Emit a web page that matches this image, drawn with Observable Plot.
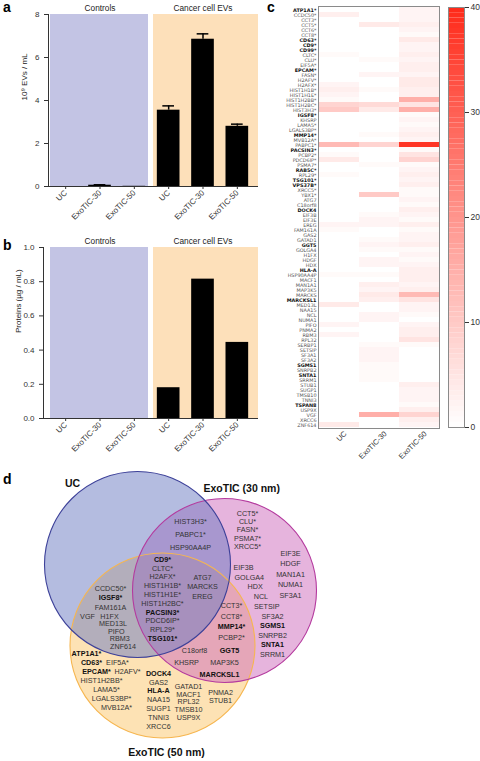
<!DOCTYPE html>
<html><head><meta charset="utf-8">
<script src="https://cdn.jsdelivr.net/npm/d3@7"></script>
<script src="https://cdn.jsdelivr.net/npm/@observablehq/plot@0.6"></script>
<style>
body{margin:0;background:#fff;}
#root{position:relative;width:480px;height:761px;overflow:hidden;font-family:"Liberation Sans",Arial,sans-serif;background:#fff;}
.letter{position:absolute;font-weight:bold;font-size:14px;line-height:14px;color:#000;}
</style></head><body><div id="root"></div>
<script>
// ---------- data: panels a & b ----------
const groups = ["Controls", "Cancer cell EVs"];
const methods = ["UC", "ExoTIC-30", "ExoTIC-50"];
const evConc = [0.0, 0.06, 0.01, 3.55, 6.85, 2.8];      // 10^9 EVs / mL
const evErr = [0.0, 0.02, 0.0, 0.2, 0.25, 0.1];
const evTicks = [0, 2, 4, 6, 8];
const proteinConc = [0.0, 0.0, 0.0, 0.18, 0.815, 0.445]; // µg / mL
const proteinTicks = [0, 0.2, 0.4, 0.6, 0.8, 1.0];

// ---------- data: panel c ----------
const heatGenes = ["ATP1A1*","CCDC50*","CCT3*","CCT5*","CCT6*","CCT8*","CD63*","CD9*","CD99*","CLTC*","CLU*","EIF5A*","EPCAM*","FASN*","H2AFV*","H2AFX*","HIST1H1B*","HIST1H1E*","HIST1H2BB*","HIST1H2BC*","HIST3H3*","IGSF8*","KHSRP","LAMA5*","LGALS3BP*","MMP14*","MVB12A*","PABPC1*","PACSIN3*","PCBP2*","PDCD6IP*","PSMA7*","RAB5C*","RPL29*","TSG101*","VPS37B*","XRCC5*","YBX1*","ATG7","C18orf8","DOCK4","EIF3B","EIF3E","EREG","FAM161A","GAS2","GATAD1","GGT5","GOLGA4","H1FX","HDGF","HDX","HLA-A","HSP90AA4P","MACF1","MAN1A1","MAP3K5","MARCKS","MARCKSL1","MED13L","NAA15","NCL","NUMA1","PIFO","PNMA2","RBM3","RPL32","SERBP1","SETSIP","SF3A1","SF3A2","SGMS1","SNRPB2","SNTA1","SRRM1","STUB1","SUGP1","TMSB10","TNNI3","TSPAN8","USP9X","VGF","XRCC6","ZNF614"];
const heatUC = [0,3,0,0,0,0,0,0,0,1,0,0,0,0,0,2,3,2,1,8,10,0,0,0,0,0,0,13,0,1,4,0,0,1,0,0,0,0,0,0,0,0,0,2,1,0,0,0,0,0,0,0,0,1,0,0,0,0,0,4,0,0,0,2,0,2,0,0,0,0,0,0,0,0,0,0,0,0,0,0,0,0,0,4];
const heat30 = [0,0,0,4,0,0,0,0,0,0,1,0,0,2,0,0,1,0,0,7,4,0,0,0,0,1,0,8,0,0,0,1,0,0,0,0,0,10,0,0,0,1,2,2,0,0,1,2,1,0,2,2,0,1,0,3,2,4,3,0,0,2,2,0,0,0,0,1,2,2,2,1,1,1,1,0,0,0,0,0,0,15,0,0];
const heat50 = [2,2,2,3,2,1,4,2,2,3,2,3,3,2,4,4,3,3,15,5,15,1,2,1,2,3,2,38,1,5,8,1,2,3,2,3,1,1,2,1,3,2,1,3,1,2,2,3,1,2,1,2,3,3,3,2,3,13,5,2,2,1,0,2,3,3,5,1,0,0,0,0,0,0,0,3,2,2,2,1,3,8,3,2];
const colorTicks = [0, 10, 20, 30, 40];
const markers = ["ATP1A1","CD63","CD9","CD99","EPCAM","IGSF8","MMP14","PACSIN3","RAB5C","TSG101","VPS37B","DOCK4","GGT5","HLA-A","MARCKSL1","SGMS1","SNTA1","TSPAN8"];

// ---------- data: panel d (Venn regions) ----------
const vennSets = ["UC", "ExoTIC (30 nm)", "ExoTIC (50 nm)"];
const ucExo30 = ["HIST3H3*","PABPC1*","HSP90AA4P"];
const allThree = ["CD9*","CLTC*","H2AFX*","HIST1H1B*","HIST1H1E*","HIST1H2BC*","PACSIN3*","PDCD6IP*","RPL29*","TSG101*","ATG7","MARCKS","EREG"];
const ucExo50 = ["CCDC50*","IGSF8*","FAM161A","VGF","H1FX","MED13L","PIFO","RBM3","ZNF614"];
const exo30Only = ["CCT5*","CLU*","FASN*","PSMA7*","XRCC5*","EIF3B","GOLGA4","HDX","NCL","SETSIP","SF3A2","SGMS1","SNRPB2","SNTA1","SRRM1","EIF3E","HDGF","MAN1A1","NUMA1","SF3A1"];
const exo30Exo50 = ["CCT3*","CCT8*","MMP14*","PCBP2*","C18orf8","KHSRP","GGT5","MAP3K5","MARCKSL1"];
const exo50Only = ["ATP1A1*","CD63*","EPCAM*","HIST1H2BB*","LAMA5*","LGALS3BP*","MVB12A*","EIF5A*","H2AFV*","DOCK4","GAS2","HLA-A","NAA15","SUGP1","TNNI3","XRCC6","GATAD1","MACF1","RPL32","TMSB10","USP9X","PNMA2","STUB1"];

// ---------- rendering ----------
const FONT = '"Liberation Sans", Arial, Helvetica, sans-serif';
const root = document.getElementById("root");
const isMarker = g => markers.includes(g.replace("*", ""));
function place(node, left, top) {
  node.style.position = "absolute";
  node.style.left = left + "px";
  node.style.top = top + "px";
  root.appendChild(node);
}
function letter(t, left, top) {
  const s = document.createElement("div");
  s.className = "letter"; s.textContent = t;
  s.style.left = left + "px"; s.style.top = top + "px";
  root.appendChild(s);
}
const baseStyle = {fontFamily: FONT, fontSize: "8px", background: "transparent", overflow: "visible", color: "#333"};

function barPanel({values, errors, ticks, fmt, label, height, mt, mb, axisDx, labelDx}) {
  const yMax = ticks[ticks.length - 1];
  const rows = values.map((v, i) => ({i, v, e: errors ? errors[i] : 0}));
  const errRows = rows.filter(d => d.e > 0);
  const tickPos = rows.map(d => d.i + 0.5);
  const bg = groups.map((g, k) => ({g, k}));
  return Plot.plot({
    width: 260, height, marginLeft: 48, marginRight: 6, marginTop: mt, marginBottom: mb,
    style: baseStyle,
    x: {domain: [0, 6], axis: null},
    y: {domain: [0, yMax], axis: null},
    marks: [
      Plot.rect(bg.slice(0, 1), {x1: d => d.k * 3, x2: d => d.k * 3 + 3, y1: 0, y2: yMax, fill: "#c3c4e4", insetLeft: 2, insetRight: 3}),
      Plot.rect(bg.slice(1), {x1: d => d.k * 3, x2: d => d.k * 3 + 3, y1: 0, y2: yMax, fill: "#fde0ba", insetLeft: 2, insetRight: -4}),
      Plot.text(bg, {x: d => d.k * 3 + 1.5, y: yMax, text: "g", dy: -6, fontSize: 8.3, fill: "#222"}),
      Plot.rectY(rows, {x1: d => d.i + 0.17, x2: d => d.i + 0.83, y: "v", fill: "#000"}),
      Plot.ruleX(errRows, {x: d => d.i + 0.5, y1: "v", y2: d => d.v + d.e, stroke: "#000", strokeWidth: 1.5}),
      Plot.ruleY(errRows, {x1: d => d.i + 0.33, x2: d => d.i + 0.67, y: d => d.v + d.e, stroke: "#000", strokeWidth: 1.5}),
      Plot.ruleY([0], {stroke: "#333", insetRight: -4, insetLeft: axisDx}),
      Plot.ruleX([0], {stroke: "#333", dx: axisDx}),
      Plot.axisY({ticks, tickFormat: fmt, tickSize: 4, dx: axisDx, label: null, fontSize: 8, stroke: "#333"}),
      Plot.axisX(tickPos, {tickFormat: t => methods[Math.floor(t) % 3], tickRotate: -45, tickSize: 3, tickPadding: 2, label: null, fontSize: 8}),
      Plot.text([label], {text: d => d, frameAnchor: "left", rotate: -90, dx: labelDx, fontSize: 8, fill: "#222"})
    ]
  });
}

// panel a
place(barPanel({values: evConc, errors: evErr, ticks: evTicks, fmt: d => String(d), label: "10⁹ EVs / mL", height: 225, mt: 14, mb: 39, axisDx: 0, labelDx: -24}), 0, 0);
// panel b
place(barPanel({values: proteinConc, errors: null, ticks: proteinTicks, fmt: d3.format(".1f"), label: "Proteins (µg / mL)", height: 225, mt: 19, mb: 35, axisDx: -5, labelDx: -30}), 0, 228);

// panel c heatmap
const heatCols = [heatUC, heat30, heat50];
const cells = heatGenes.flatMap((g, r) => methods.map((m, c) => ({g, m, v: heatCols[c][r]})));
const colorScale = {type: "linear", domain: [0, 40], range: ["#ffffff", "#ff2a1a"]};
const LABEL_FONT = '"DejaVu Sans", "Liberation Sans", Arial, sans-serif';
place(Plot.plot({
  width: 190, height: 470, marginLeft: 63, marginRight: 6, marginTop: 6, marginBottom: 42,
  style: baseStyle,
  x: {domain: methods, padding: 0, axis: null},
  y: {domain: heatGenes, padding: 0, axis: null},
  color: colorScale,
  marks: [
    Plot.cell(cells, {x: "m", y: "g", fill: "v"}),
    Plot.frame({stroke: "#8a8a8a"}),
    Plot.text(heatGenes.filter(g => !isMarker(g)), {y: d => d, text: d => d, frameAnchor: "left", textAnchor: "end", dx: -2, fontSize: 4.9, fontFamily: LABEL_FONT, fill: "#555"}),
    Plot.text(heatGenes.filter(isMarker), {y: d => d, text: d => d, frameAnchor: "left", textAnchor: "end", dx: -2, fontSize: 4.9, fontFamily: LABEL_FONT, fontWeight: "bold", fill: "#111"}),
    Plot.axisX({tickRotate: -45, tickSize: 0, tickPadding: 4, dx: 6, label: null, fontSize: 7.5})
  ]
}), 255, 0);

// colour bar
const barStep = 0.5;
const barStops = d3.range(0, 40, barStep);
place(Plot.plot({
  width: 40, height: 470, marginLeft: 8, marginRight: 16, marginTop: 7, marginBottom: 43,
  style: baseStyle,
  x: {domain: [0, 1], axis: null},
  y: {domain: [0, 40], axis: null},
  color: colorScale,
  marks: [
    Plot.rect(barStops, {x1: 0, x2: 1, y1: d => d, y2: d => d + barStep, fill: d => d + barStep / 2}),
    Plot.frame({stroke: "#8a8a8a"}),
    Plot.axisY({anchor: "right", ticks: colorTicks, tickSize: 4, tickPadding: 2, label: null, fontSize: 8.5})
  ]
}), 440, 0);

// panel d Venn
const circles = [
  {set: vennSets[0], cx: 137, cy: 564, r: 93, fill: "#6979c1", op: 0.5, stroke: "#3d4199", lx: 72, ly: 483, anchor: "middle"},
  {set: vennSets[1], cx: 224, cy: 590, r: 92, fill: "#cd69bb", op: 0.5, stroke: "#b43a9e", lx: 203, ly: 488, anchor: "start"},
  {set: vennSets[2], cx: 162, cy: 645, r: 92.5, fill: "#fde2b4", op: 1, stroke: "#f6b650", lx: 166, ly: 752, anchor: "middle"}
];
const blocks = [
  {src: ucExo30, from: 0, to: 3, x: 190, y: 521, dy: 13, slope: 0},
  {src: allThree, from: 0, to: 10, x: 162, y: 559, dy: 8.8, slope: 0},
  {src: allThree, from: 10, to: 13, x: 202, y: 577, dy: 9.5, slope: 0},
  {src: ucExo50, from: 0, to: 3, x: 110, y: 588, dy: 9.5, slope: 0},
  {src: ucExo50, from: 3, to: 4, x: 87, y: 616, dy: 0, slope: 0},
  {src: ucExo50, from: 4, to: 9, x: 109, y: 616, dy: 7.5, slope: 3.4},
  {src: exo30Only, from: 0, to: 5, x: 247, y: 513, dy: 8.3, slope: 0},
  {src: exo30Only, from: 5, to: 10, x: 243, y: 567, dy: 9.7, slope: 5.8},
  {src: exo30Only, from: 10, to: 15, x: 272, y: 616, dy: 9.5, slope: 0},
  {src: exo30Only, from: 15, to: 20, x: 290, y: 553, dy: 10.5, slope: 0},
  {src: exo30Exo50, from: 0, to: 4, x: 231, y: 605, dy: 10.7, slope: 0},
  {src: exo30Exo50, from: 4, to: 6, x: 194, y: 650, dy: 12, slope: -8},
  {src: exo30Exo50, from: 6, to: 9, x: 229, y: 650, dy: 12, slope: -5},
  {src: exo50Only, from: 0, to: 7, x: 86, y: 653, dy: 9, slope: 5},
  {src: exo50Only, from: 7, to: 9, x: 117, y: 662, dy: 9, slope: 10},
  {src: exo50Only, from: 9, to: 16, x: 158, y: 673, dy: 8.8, slope: 0},
  {src: exo50Only, from: 16, to: 21, x: 188, y: 686, dy: 7.8, slope: 0},
  {src: exo50Only, from: 21, to: 23, x: 220, y: 692, dy: 8.5, slope: 0}
];
const vennLabels = blocks.flatMap(b => b.src.slice(b.from, b.to).map((g, k) => ({g, x: b.x + k * b.slope, y: b.y + k * b.dy, bold: isMarker(g)})));
const c = circles;
const dotOpts = d => ({x: "cx", y: "cy", r: d.r});
place(Plot.plot({
  width: 480, height: 311, margin: 0,
  style: baseStyle,
  x: {domain: [0, 480], range: [0, 480], axis: null},
  y: {domain: [450, 761], range: [0, 311], axis: null},
  marks: [
    Plot.dot([c[2]], {...dotOpts(c[2]), fill: c[2].fill, fillOpacity: c[2].op, stroke: null}),
    Plot.dot([c[1]], {...dotOpts(c[1]), fill: c[1].fill, fillOpacity: c[1].op, stroke: null}),
    Plot.dot([c[0]], {...dotOpts(c[0]), fill: c[0].fill, fillOpacity: c[0].op, stroke: null}),
    Plot.dot([c[2]], {...dotOpts(c[2]), fill: "none", stroke: c[2].stroke, strokeWidth: 1.1}),
    Plot.dot([c[1]], {...dotOpts(c[1]), fill: "none", stroke: c[1].stroke, strokeWidth: 1.1}),
    Plot.dot([c[0]], {...dotOpts(c[0]), fill: "none", stroke: c[0].stroke, strokeWidth: 1.1}),
    Plot.text(vennLabels.filter(d => !d.bold), {x: "x", y: "y", text: "g", fontSize: 7.2, fill: "#333"}),
    Plot.text(vennLabels.filter(d => d.bold), {x: "x", y: "y", text: "g", fontSize: 7.2, fontWeight: "bold", fill: "#111"}),
    Plot.text(circles.filter(d => d.anchor === "middle"), {x: "lx", y: "ly", text: "set", fontSize: 10.5, fontWeight: "bold", fill: "#111"}),
    Plot.text(circles.filter(d => d.anchor === "start"), {x: "lx", y: "ly", text: "set", fontSize: 10.5, fontWeight: "bold", fill: "#111", textAnchor: "start"})
  ]
}), 0, 450);

letter("a", 3, 0);
letter("b", 3, 238);
letter("c", 267, 0);
letter("d", 3, 472);
</script></body></html>
